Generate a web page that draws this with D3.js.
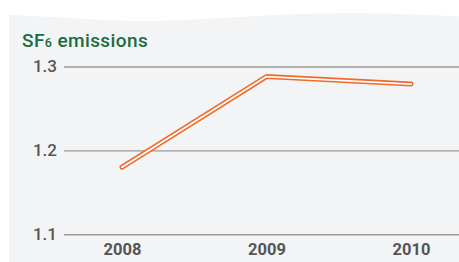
<!DOCTYPE html>
<html>
<head>
<meta charset="utf-8">
<script src="https://cdn.jsdelivr.net/npm/d3@7"></script>
<style>
  html, body { margin:0; padding:0; background:#fff; }
  svg { display:block; }
</style>
</head>
<body>
<svg id="grafica"></svg>
<script>
// SF6 emissions 2008-2010

const svg_w = 459; // ancho del svg
const svg_h = 262; // alto del svg

// márgenes de la zona de la gráfica
const margin = {l:64, r:0, t:66.5, b:27.7}

// datos
const years = ["2008", "2009", "2010"];
const emissions = [1.18, 1.288, 1.279];
const y_ticks = [1.1, 1.2, 1.3];

let svg = d3.select("#grafica")
  .attr("width", svg_w)
  .attr("height", svg_h)

// fondo gris con borde superior ondulado
let wave = [[9,15],[80,18.5],[150,21],[230,17.5],[300,14],[380,13.5],[459,16.5]];
let bg = d3.line().curve(d3.curveNatural)(wave)
svg.append("path")
  .attr("d", bg + `L${svg_w},${svg_h}L9,${svg_h}Z`)
  .attr("fill", "#f3f4f6")

let y_scale = d3.scaleLinear()
  .domain([1.1, 1.3])
  .range([svg_h - margin.b, margin.t])

let x_scale = d3.scalePoint()
  .domain(years)
  .range([122, 411])

// líneas de la cuadrícula
let grid = svg.append("g")
  .attr("transform", `translate(${margin.l},0)`)
  .call(d3.axisLeft(y_scale)
    .tickValues(y_ticks)
    .tickSize(-(svg_w - margin.l))
    .tickPadding(7)
    .tickFormat(d3.format(".1f")))

grid.select(".domain").remove()
grid.selectAll(".tick line")
  .attr("stroke", "#9a9a9a")
  .attr("stroke-width", 1.4)
grid.selectAll(".tick text")
  .attr("fill", "#555")
  .attr("font-family", "Roboto, sans-serif")
  .attr("font-size", 17)
  .attr("font-weight", 500)

// etiquetas de los años
let xaxis = svg.append("g")
  .attr("transform", `translate(0,${svg_h - margin.b})`)
  .call(d3.axisBottom(x_scale).tickSize(0).tickPadding(9))

xaxis.select(".domain").remove()
xaxis.selectAll(".tick text")
  .attr("fill", "#555")
  .attr("font-family", "Roboto, sans-serif")
  .attr("font-size", 16.5)
  .attr("font-weight", 700)

// la serie: trazo naranja con centro blanco
let series = years.map((d,i) => [x_scale(d), y_scale(emissions[i])])
let line = d3.line()

svg.append("path")
  .attr("d", line(series))
  .attr("fill", "none")
  .attr("stroke", "#f26a2a")
  .attr("stroke-width", 5)
  .attr("stroke-linecap", "round")
  .attr("stroke-linejoin", "round")

svg.append("path")
  .attr("d", line(series))
  .attr("fill", "none")
  .attr("stroke", "#fff")
  .attr("stroke-width", 1.8)
  .attr("stroke-linecap", "round")
  .attr("stroke-linejoin", "round")

// título
let title = svg.append("text")
  .attr("x", 22)
  .attr("y", 47)
  .attr("fill", "#1d6b3c")
  .attr("font-family", "Roboto, sans-serif")
  .attr("font-size", 19)
  .attr("font-weight", 500)
  .attr("letter-spacing", 0.4)

title.append("tspan").text("SF")
title.append("tspan").text("6").attr("font-size", 12.5)
title.append("tspan").text(" emissions")
</script>
</body>
</html>
